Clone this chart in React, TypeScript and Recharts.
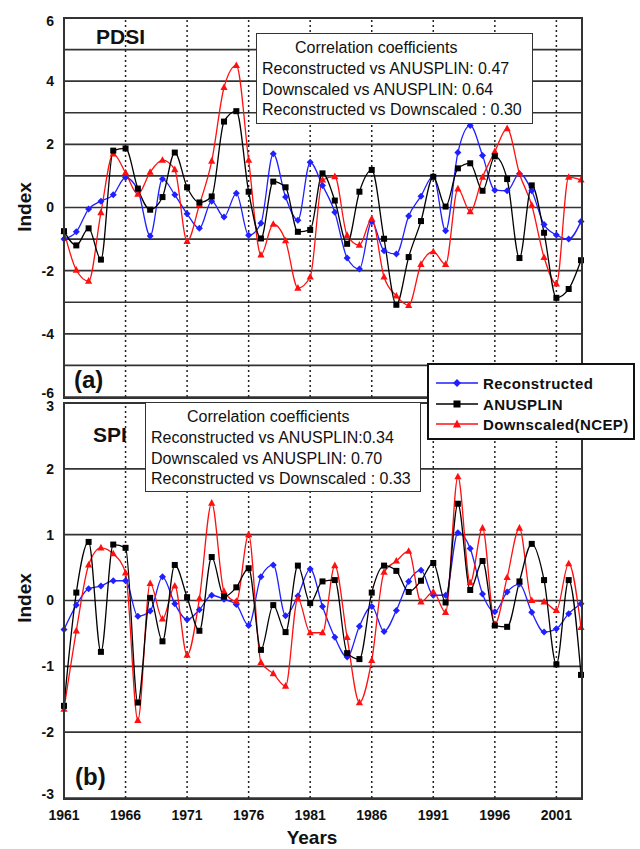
import { LineChart, Line, XAxis, YAxis, CartesianGrid, ReferenceLine } from 'recharts'

const years = [
  1961, 1962, 1963, 1964, 1965, 1966, 1967, 1968, 1969, 1970,
  1971, 1972, 1973, 1974, 1975, 1976, 1977, 1978, 1979, 1980,
  1981, 1982, 1983, 1984, 1985, 1986, 1987, 1988, 1989, 1990,
  1991, 1992, 1993, 1994, 1995, 1996, 1997, 1998, 1999, 2000,
  2001, 2002, 2003,
]

const pdsiRecon = [
  -1.0, -0.77, -0.05, 0.2, 0.4, 0.95, 0.55, -0.9, 0.9, 0.4,
  -0.2, -0.66, 0.2, -0.3, 0.45, -0.88, -0.5, 1.7, 0.33, -0.4,
  1.43, 0.7, -0.15, -1.6, -1.95, -0.45, -1.37, -1.47, -0.27, 0.36,
  1.0, -0.74, 1.74, 2.6, 1.65, 0.55, 0.53, 1.07, 0.53, -0.54,
  -0.87, -1.0, -0.44,
]
const pdsiAnusplin = [
  -0.75, -1.2, -0.66, -1.65, 1.8, 1.87, 0.6, -0.07, 0.33, 1.74,
  0.64, 0.16, 0.35, 2.72, 3.05, 0.5, -0.98, 0.82, 0.64, -0.77,
  -0.71, 1.08, 0.22, -1.15, 0.5, 1.19, -0.99, -3.08, -1.57, -0.43,
  0.97, 0.03, 1.24, 1.4, 0.53, 1.62, 0.9, -1.6, 0.7, -0.8,
  -2.86, -2.58, -1.67,
]
const pdsiDownscaled = [
  -0.75, -1.98, -2.33, -0.16, 1.7, 1.1, 0.42, 1.12, 1.5, 1.2,
  -1.07, 0.09, 1.47, 3.8, 4.5, 1.5, -1.5, -0.53, -1.05, -2.55,
  -2.2, 0.87, 0.98, -0.88, -1.19, -0.36, -2.2, -2.8, -3.1, -1.8,
  -1.4, -1.8, 0.59, -0.13, 0.96, 1.77, 2.5, 1.07, 0.07, -1.58,
  -2.42, 0.96, 0.87,
]

const spiRecon = [
  -0.44, -0.07, 0.18, 0.22, 0.3, 0.3, -0.24, -0.16, 0.36, -0.05,
  -0.29, -0.14, 0.08, 0.02, -0.06, -0.38, 0.36, 0.54, -0.23, 0.07,
  0.48, -0.09, -0.56, -0.86, -0.39, -0.09, -0.47, -0.15, 0.29, 0.46,
  0.08, 0.08, 1.03, 0.79, 0.1, -0.17, 0.13, 0.25, -0.18, -0.48,
  -0.43, -0.2, -0.05,
]
const spiAnusplin = [
  -1.6, 0.12, 0.89, -0.78, 0.85, 0.8, -1.55, 0.04, -0.62, 0.54,
  0.05, -0.46, 0.66, 0.06, 0.2, 0.49, -0.75, -0.07, -0.48, 0.53,
  -0.04, 0.29, 0.31, -0.8, -0.89, 0.12, 0.53, 0.45, 0.13, 0.3,
  0.57, -0.03, 1.47, 0.16, 0.6, -0.38, -0.4, 0.29, 0.86, 0.31,
  -0.97, 0.31, -1.13,
]
const spiDownscaled = [
  -1.65, -0.46, 0.54, 0.8, 0.71, 0.42, -1.82, 0.26, -0.28, 0.22,
  -0.83, 0.03, 1.48, 0.14, -0.01, 1.0, -0.94, -1.11, -1.3, 0.03,
  -0.49, -0.49, 0.53, -0.56, -1.55, -0.91, 0.43, 0.6, 0.75, -0.02,
  0.13, -0.18, 1.88, 0.27, 1.1, -0.36, 0.35, 1.1, 0.0, -0.02,
  -0.15, 0.56, -0.41,
]

const yearTicks = [1961, 1966, 1971, 1976, 1981, 1986, 1991, 1996, 2001]
const pdsiTicks = [-6, -5, -4, -3, -2, -1, 0, 1, 2, 3, 4, 5, 6]
const spiTicks = [-3, -2, -1, 0, 1, 2, 3]

const pdsiBox = [
  'Reconstructed vs ANUSPLIN: 0.47',
  'Downscaled vs ANUSPLIN: 0.64',
  'Reconstructed vs Downscaled : 0.30',
]
const spiBox = [
  'Reconstructed vs ANUSPLIN:0.34',
  'Downscaled vs ANUSPLIN: 0.70',
  'Reconstructed vs Downscaled : 0.33',
]

const BLUE = '#1f1fff'
const BLACK = '#000000'
const RED = '#ff1010'
const GRID = '#333333'
const FONT = '"Liberation Sans", Arial, sans-serif'

const pdsiRows = years.map((year, i) => ({
  year,
  recon: pdsiRecon[i],
  anusplin: pdsiAnusplin[i],
  down: pdsiDownscaled[i],
}))
const spiRows = years.map((year, i) => ({
  year,
  recon: spiRecon[i],
  anusplin: spiAnusplin[i],
  down: spiDownscaled[i],
}))

// marker shapes
const diamond = (p: any) =>
  p.cx == null ? <g key={`d${p.index}`} /> : (
    <path
      key={`d${p.index}`}
      d={`M${p.cx},${p.cy - 3.5}L${p.cx + 3.5},${p.cy}L${p.cx},${p.cy + 3.5}L${p.cx - 3.5},${p.cy}Z`}
      fill={BLUE}
    />
  )
const square = (p: any) =>
  p.cx == null ? <g key={`s${p.index}`} /> : (
    <rect key={`s${p.index}`} x={p.cx - 3} y={p.cy - 3} width={6} height={6} fill={BLACK} />
  )
const triangle = (p: any) =>
  p.cx == null ? <g key={`t${p.index}`} /> : (
    <path
      key={`t${p.index}`}
      d={`M${p.cx},${p.cy - 4}L${p.cx + 3.6},${p.cy + 2.6}L${p.cx - 3.6},${p.cy + 2.6}Z`}
      fill={RED}
    />
  )

const tickStyle = { fontSize: 14, fontWeight: 'bold' as const, fill: '#111', fontFamily: FONT }

// y tick: only even labels on PDSI, extremes nudged inward so the two panels' end labels sit apart
function makeYTick(domain: number[]) {
  return (p: any) => {
    const v = p.payload.value
    if (domain[1] === 6 && v % 2 !== 0) return <g key={`y${v}`} />
    const shift = v === domain[0] ? -4 : v === domain[1] ? 3 : 0
    return (
      <text key={`y${v}`} x={p.x} y={p.y + shift} dy="0.35em" textAnchor="end" {...tickStyle}>
        {v}
      </text>
    )
  }
}

function Series() {
  return [
    <Line key="r" dataKey="recon" type="monotone" stroke={BLUE} strokeWidth={1.3} dot={diamond} activeDot={false} isAnimationActive={false} />,
    <Line key="d" dataKey="down" type="monotone" stroke={RED} strokeWidth={1.3} dot={triangle} activeDot={false} isAnimationActive={false} />,
    <Line key="a" dataKey="anusplin" type="monotone" stroke={BLACK} strokeWidth={1.3} dot={square} activeDot={false} isAnimationActive={false} />,
  ]
}

function Panel({ rows, ticks, domain, showX, height, margin }: any) {
  return (
    <LineChart width={640} height={height} data={rows} margin={margin} style={{ overflow: 'visible' }}>
      <CartesianGrid vertical={false} stroke={GRID} strokeWidth={1.6} />
      <XAxis
        dataKey="year"
        type="number"
        domain={[1961, 2003]}
        ticks={yearTicks}
        hide={!showX}
        axisLine={false}
        tickLine={false}
        tickSize={0}
        tickMargin={12}
        height={30}
        tick={tickStyle}
      />
      <YAxis
        type="number"
        domain={domain}
        ticks={ticks}
        interval={0}
        width={30}
        axisLine={false}
        tickLine={false}
        tickSize={0}
        tickMargin={10}
        tick={makeYTick(domain)}
      />
      {yearTicks.slice(1).map((t) => (
        <ReferenceLine key={t} x={t} stroke="#222" strokeWidth={1.5} strokeDasharray="2 3" />
      ))}
      {Series()}
    </LineChart>
  )
}

function LegendRow({ y, label, color, kind }: any) {
  return (
    <div style={{ position: 'absolute', left: 436, top: y - 10, height: 20, display: 'flex', alignItems: 'center' }}>
      <svg width={44} height={12}>
        <line x1={0} y1={6} x2={42} y2={6} stroke={color} strokeWidth={1.5} />
        {kind === 'd' && <path d="M21,2L25,6L21,10L17,6Z" fill={color} />}
        {kind === 's' && <rect x={17.5} y={2.5} width={7} height={7} fill={color} />}
        {kind === 't' && <path d="M21,1.5L25,9.5L17,9.5Z" fill={color} />}
      </svg>
      <span style={{ marginLeft: 3, fontSize: 15, fontWeight: 'bold', letterSpacing: 0.4, color: '#111' }}>{label}</span>
    </div>
  )
}

function CorrBox({ left, top, width, height, titleLeft, lines }: any) {
  return (
    <div
      style={{
        position: 'absolute', left, top, width, height, boxSizing: 'border-box',
        border: '1.5px solid #333', background: '#fff', fontSize: 16, color: '#111',
      }}
    >
      <div style={{ position: 'absolute', left: titleLeft, top: 4, lineHeight: '20px', whiteSpace: 'nowrap' }}>
        Correlation coefficients
      </div>
      {lines.map((s: string, i: number) => (
        <div key={s} style={{ position: 'absolute', left: 5, top: 25 + i * 20.5, lineHeight: '20px', whiteSpace: 'nowrap' }}>
          {s}
        </div>
      ))}
    </div>
  )
}

export default function App() {
  const txt = { position: 'absolute' as const, fontWeight: 'bold' as const, color: '#111', whiteSpace: 'nowrap' as const }
  return (
    <div style={{ position: 'absolute', left: 0, top: 0, width: 640, height: 849, background: '#fff', fontFamily: FONT, overflow: 'hidden' }}>
      <div style={{ position: 'absolute', left: 0, top: 0 }}>
        <Panel rows={pdsiRows} ticks={pdsiTicks} domain={[-6, 6]} showX={false} height={410}
          margin={{ top: 18, right: 59, bottom: 13, left: 34 }} />
      </div>
      <div style={{ position: 'absolute', left: 0, top: 390 }}>
        <Panel rows={spiRows} ticks={spiTicks} domain={[-3, 3]} showX height={459}
          margin={{ top: 13, right: 59, bottom: 21, left: 34 }} />
      </div>

      {/* plot frames */}
      <div style={{ position: 'absolute', left: 63, top: 17, width: 520, height: 382, boxSizing: 'border-box', border: '2px solid #333' }} />
      <div style={{ position: 'absolute', left: 63, top: 402, width: 520, height: 398, boxSizing: 'border-box', border: '2px solid #333' }} />

      <CorrBox left={256} top={33} width={277} height={91} titleLeft={38} lines={pdsiBox} />
      <CorrBox left={145} top={402} width={276} height={90} titleLeft={41} lines={spiBox} />

      <div style={{ position: 'absolute', left: 427, top: 363, width: 208, height: 77, boxSizing: 'border-box', border: '2px solid #111', background: '#fff' }} />
      <LegendRow y={383} label="Reconstructed" color={BLUE} kind="d" />
      <LegendRow y={404} label="ANUSPLIN" color={BLACK} kind="s" />
      <LegendRow y={424} label="Downscaled(NCEP)" color={RED} kind="t" />

      <div style={{ ...txt, left: 96, top: 26, fontSize: 21, lineHeight: '21px' }}>PDSI</div>
      <div style={{ ...txt, left: 74, top: 368, fontSize: 24, lineHeight: '24px' }}>(a)</div>
      <div style={{ ...txt, left: 93, top: 424, fontSize: 21, lineHeight: '21px' }}>SPI</div>
      <div style={{ ...txt, left: 75, top: 765, fontSize: 24, lineHeight: '24px' }}>(b)</div>

      <div style={{ ...txt, left: -15, top: 197, width: 80, textAlign: 'center', fontSize: 19, lineHeight: '20px', transform: 'rotate(-90deg)' }}>Index</div>
      <div style={{ ...txt, left: -15, top: 588, width: 80, textAlign: 'center', fontSize: 19, lineHeight: '20px', transform: 'rotate(-90deg)' }}>Index</div>
      <div style={{ ...txt, left: 262, top: 828, width: 100, textAlign: 'center', fontSize: 19, lineHeight: '20px' }}>Years</div>
    </div>
  )
}
